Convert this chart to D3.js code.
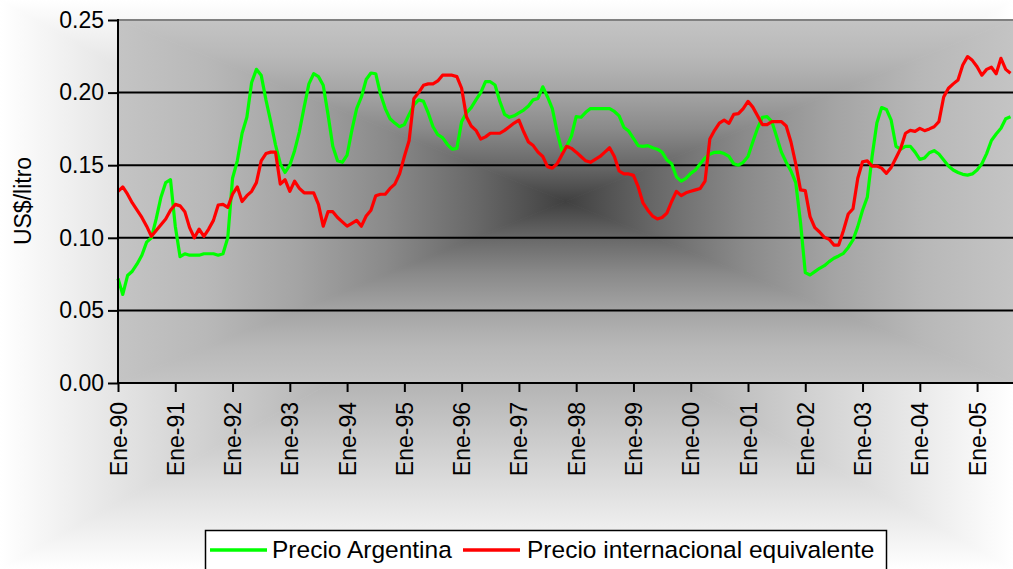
<!DOCTYPE html>
<html>
<head>
<meta charset="utf-8">
<script src="https://cdn.jsdelivr.net/npm/d3@7"></script>
<style>
  body { margin: 0; background: #ffffff; }
  svg { display: block; font-family: "Liberation Sans", Arial, sans-serif; }
</style>
</head>
<body>
<svg id="chart" width="1013" height="569"></svg>
<script>
// Monthly prices, January 1990 onwards (US$ per litre)
const yearLabels = ["Ene-90","Ene-91","Ene-92","Ene-93","Ene-94","Ene-95","Ene-96","Ene-97",
                    "Ene-98","Ene-99","Ene-00","Ene-01","Ene-02","Ene-03","Ene-04","Ene-05"];

const precioArgentina = [
  0.072,0.061,0.074,0.077,0.082,0.088,0.097,0.100,0.113,0.128,0.138,0.140,
  0.108,0.087,0.089,0.088,0.088,0.088,0.089,0.089,0.089,0.088,0.089,0.100,
  0.141,0.153,0.172,0.183,0.207,0.216,0.212,0.195,0.180,0.164,0.151,0.145,
  0.150,0.160,0.173,0.190,0.206,0.213,0.211,0.205,0.185,0.163,0.153,0.152,
  0.157,0.174,0.189,0.197,0.209,0.2135,0.213,0.199,0.189,0.182,0.179,0.1765,
  0.178,0.185,0.1915,0.195,0.194,0.186,0.1765,0.171,0.169,0.1644,0.161,0.1616,
  0.180,0.186,0.1896,0.195,0.200,0.2075,0.2075,0.2052,0.194,0.185,0.183,0.184,
  0.186,0.188,0.1908,0.195,0.196,0.204,0.197,0.189,0.173,0.160,0.163,0.170,
  0.1834,0.183,0.1864,0.189,0.189,0.189,0.189,0.189,0.187,0.184,0.176,0.1735,
  0.1685,0.1634,0.163,0.1635,0.162,0.161,0.159,0.1536,0.151,0.142,0.139,0.141,
  0.1444,0.1467,0.151,0.155,0.1576,0.1589,0.159,0.158,0.156,0.151,0.150,0.152,
  0.156,0.166,0.1754,0.183,0.1834,0.180,0.1696,0.159,0.152,0.146,0.138,0.1107,
  0.076,0.0744,0.0767,0.079,0.0808,0.0836,0.0859,0.0875,0.0893,0.0934,0.0985,0.1077,
  0.119,0.128,0.156,0.179,0.1897,0.1884,0.181,0.163,0.161,0.163,0.163,0.159,
  0.154,0.155,0.1586,0.160,0.1577,0.1536,0.1494,0.1467,0.145,0.1437,0.1432,0.144,
  0.1467,0.151,0.158,0.167,0.1715,0.1754,0.182,0.1834
];

const precioInternacional = [
  0.132,0.135,0.130,0.124,0.119,0.114,0.108,0.101,0.105,0.109,0.113,0.119,
  0.123,0.122,0.118,0.107,0.100,0.106,0.101,0.106,0.112,0.1226,0.123,0.121,
  0.130,0.135,0.125,0.129,0.132,0.138,0.153,0.158,0.159,0.159,0.137,0.140,
  0.132,0.139,0.134,0.131,0.131,0.131,0.123,0.108,0.118,0.118,0.114,0.111,
  0.108,0.110,0.112,0.108,0.115,0.119,0.129,0.130,0.130,0.134,0.137,0.144,
  0.156,0.167,0.196,0.200,0.205,0.206,0.206,0.208,0.212,0.212,0.212,0.211,
  0.203,0.1834,0.177,0.174,0.168,0.1695,0.172,0.172,0.172,0.174,0.1765,0.179,
  0.181,0.173,0.166,0.1635,0.159,0.156,0.149,0.148,0.151,0.157,0.163,0.1616,
  0.159,0.156,0.153,0.152,0.154,0.156,0.159,0.162,0.156,0.146,0.144,0.144,
  0.143,0.135,0.124,0.119,0.115,0.113,0.114,0.117,0.125,0.132,0.129,0.131,
  0.132,0.133,0.134,0.139,0.168,0.174,0.179,0.181,0.1788,0.185,0.1855,0.189,
  0.194,0.190,0.184,0.178,0.178,0.180,0.180,0.180,0.177,0.166,0.151,0.133,
  0.1325,0.1146,0.107,0.104,0.1003,0.099,0.095,0.095,0.105,0.1164,0.120,0.141,
  0.1524,0.153,0.1494,0.1494,0.148,0.1444,0.1485,0.155,0.1616,0.172,0.174,0.1733,
  0.1754,0.1738,0.175,0.1765,0.180,0.197,0.203,0.206,0.2087,0.219,0.2248,0.2222,
  0.2178,0.212,0.216,0.2175,0.213,0.2236,0.216,0.2133
];

const yTicks = [0, 0.05, 0.10, 0.15, 0.20, 0.25];
const seriesNames = ["Precio Argentina", "Precio internacional equivalente"];
const seriesColors = ["#00ff00", "#ff0000"];

const W = 1013, H = 569;
const plot = { left: 118, top: 20, right: 1013, bottom: 383 };
const n = precioArgentina.length;

const svg = d3.select("#chart");
const defs = svg.append("defs");

const x = d3.scaleLinear().domain([0, n - 1]).range([plot.left, 1010.5]);
const y = d3.scaleLinear().domain([0, 0.25]).range([plot.bottom, plot.top]);

// Rectangular "from centre" shading built from four triangles;
// stops run from the outer edge (offset 0) to the centre (offset 1)
function pyramid(parent, id, x0, y0, x1, y1, cx, cy, stops) {
  const parts = [
    { pts: [[x0, y0], [x1, y0], [cx, cy]], g: [0, y0, 0, cy] },
    { pts: [[x0, y1], [x1, y1], [cx, cy]], g: [0, y1, 0, cy] },
    { pts: [[x0, y0], [x0, y1], [cx, cy]], g: [x0, 0, cx, 0] },
    { pts: [[x1, y0], [x1, y1], [cx, cy]], g: [x1, 0, cx, 0] }
  ];
  parts.forEach((p, i) => {
    const lg = defs.append("linearGradient")
      .attr("id", id + i)
      .attr("gradientUnits", "userSpaceOnUse")
      .attr("x1", p.g[0]).attr("y1", p.g[1])
      .attr("x2", p.g[2]).attr("y2", p.g[3]);
    stops.forEach(s => lg.append("stop").attr("offset", s[0]).attr("stop-color", s[1]));
    parent.append("path")
      .attr("d", d3.line()(p.pts) + "Z")
      .attr("fill", `url(#${id + i})`)
      .attr("stroke", `url(#${id + i})`)
      .attr("stroke-width", 0.8);
  });
}

// chart area background
pyramid(svg.append("g"), "bgArea", 0, 0, W, H, 506, 284,
        [[0, "#ffffff"], [1, "#8c8c8c"]]);

// plot area background
pyramid(svg.append("g"), "bgPlot", plot.left, plot.top, plot.right, plot.bottom,
        (plot.left + plot.right) / 2, (plot.top + plot.bottom) / 2,
        [[0, "#c4c4c4"], [0.2, "#b8b8b8"], [0.4, "#a4a4a4"], [0.6, "#8a8a8a"], [0.8, "#686868"], [1, "#404040"]]);

// horizontal gridlines
svg.append("g")
  .selectAll("line")
  .data(yTicks.filter(v => v > 0 && v < 0.25))
  .join("line")
  .attr("x1", plot.left).attr("x2", plot.right)
  .attr("y1", d => y(d)).attr("y2", d => y(d))
  .attr("stroke", "#000").attr("stroke-width", 2);

// plot top border
svg.append("line")
  .attr("x1", plot.left).attr("x2", plot.right)
  .attr("y1", y(0.25)).attr("y2", y(0.25))
  .attr("stroke", "#808080").attr("stroke-width", 2);

// series lines
const line = d3.line().x((d, i) => x(i)).y(d => y(d));
[precioArgentina, precioInternacional].forEach((s, k) => {
  svg.append("path")
    .datum(s)
    .attr("d", line)
    .attr("fill", "none")
    .attr("stroke", seriesColors[k])
    .attr("stroke-width", 3.2)
    .attr("stroke-linejoin", "round");
});

// Y axis
const yAxis = svg.append("g")
  .attr("transform", `translate(${plot.left},0)`)
  .call(d3.axisLeft(y).tickValues(yTicks).tickFormat(d3.format(".2f")).tickSize(10).tickSizeOuter(0));
yAxis.select(".domain").remove();
yAxis.selectAll(".tick line").attr("stroke", "#000").attr("stroke-width", 2);
yAxis.selectAll(".tick text")
  .attr("x", -14)
  .attr("font-size", 23)
  .attr("font-family", "Liberation Sans, Arial, sans-serif")
  .attr("fill", "#000");

svg.append("line")
  .attr("x1", plot.left).attr("x2", plot.left)
  .attr("y1", plot.top - 1).attr("y2", plot.bottom + 1)
  .attr("stroke", "#000").attr("stroke-width", 2);

// X axis
const xAxis = svg.append("g")
  .attr("transform", `translate(0,${plot.bottom})`)
  .call(d3.axisBottom(x)
    .tickValues(d3.range(0, n, 12))
    .tickFormat((d, i) => yearLabels[i])
    .tickSize(9).tickSizeOuter(0));
xAxis.select(".domain").remove();
xAxis.selectAll(".tick line").attr("stroke", "#000").attr("stroke-width", 2);
xAxis.selectAll(".tick text")
  .attr("font-size", 23)
  .attr("font-family", "Liberation Sans, Arial, sans-serif")
  .attr("fill", "#000")
  .attr("text-anchor", "end")
  .attr("transform", "rotate(-90)")
  .attr("x", -19)
  .attr("y", 0)
  .attr("dy", "0.35em");

svg.append("line")
  .attr("x1", plot.left - 1).attr("x2", plot.right)
  .attr("y1", plot.bottom).attr("y2", plot.bottom)
  .attr("stroke", "#000").attr("stroke-width", 2);

// Y axis title
svg.append("text")
  .attr("transform", `translate(31,201) rotate(-90)`)
  .attr("text-anchor", "middle")
  .attr("font-size", 23)
  .attr("fill", "#000")
  .text("US$/litro");

// Legend
const legend = svg.append("g");
legend.append("rect")
  .attr("x", 205.5).attr("y", 530.5)
  .attr("width", 681).attr("height", 60)
  .attr("fill", "#ffffff").attr("stroke", "#000").attr("stroke-width", 1.5);

const legendItems = [
  { name: seriesNames[0], color: seriesColors[0], x0: 210, tx: 272 },
  { name: seriesNames[1], color: seriesColors[1], x0: 463, tx: 527 }
];
legendItems.forEach(it => {
  legend.append("line")
    .attr("x1", it.x0).attr("x2", it.x0 + 57)
    .attr("y1", 550).attr("y2", 550)
    .attr("stroke", it.color).attr("stroke-width", 3.5);
  legend.append("text")
    .attr("x", it.tx).attr("y", 558)
    .attr("font-size", 24.5)
    .attr("fill", "#000")
    .text(it.name);
});
</script>
</body>
</html>
